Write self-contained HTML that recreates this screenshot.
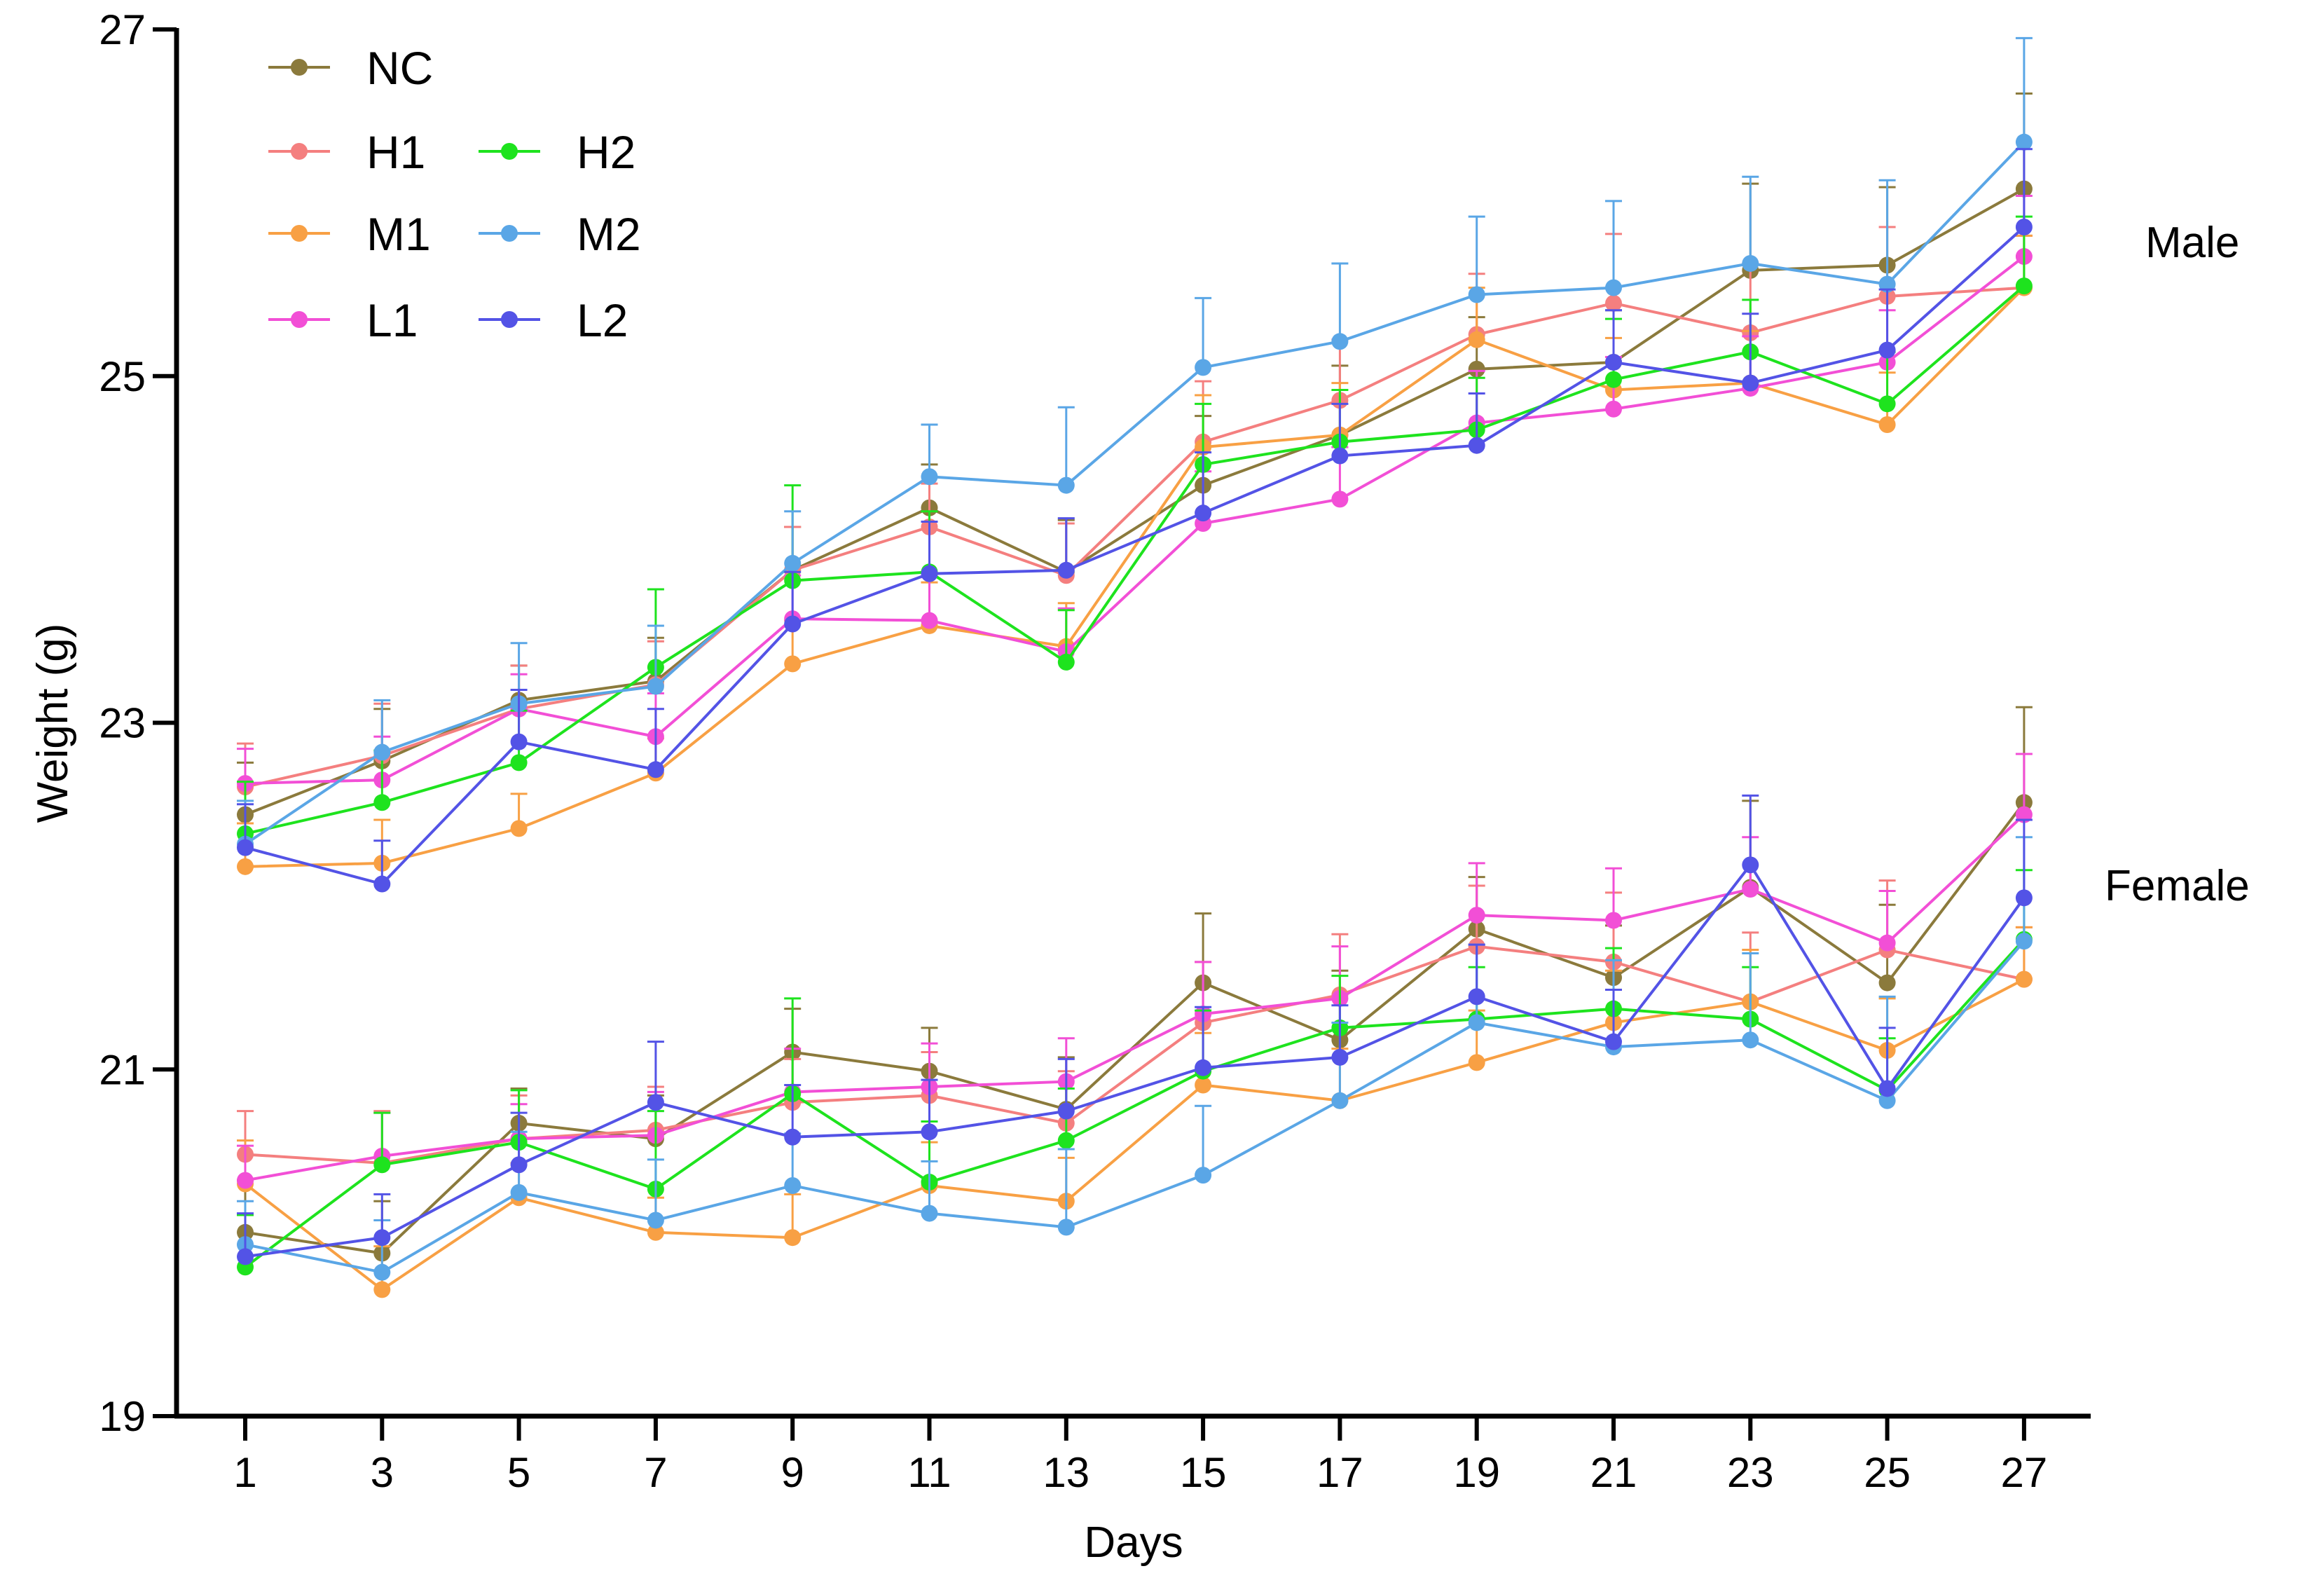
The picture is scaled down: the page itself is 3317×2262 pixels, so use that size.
<!DOCTYPE html>
<html><head><meta charset="utf-8"><style>
html,body{margin:0;padding:0;background:#fff;}
svg{display:block;font-family:"Liberation Sans",Arial,sans-serif;}
</style></head><body>
<svg id="chart" width="3317" height="2262" viewBox="0 0 3317 2262" xmlns="http://www.w3.org/2000/svg"></svg>
<script>
const days = [1,3,5,7,9,11,13,15,17,19,21,23,25,27];
const seriesNames = ["NC","H1","M1","L1","H2","M2","L2"];
const seriesColors = ["#8b7a3c","#f47f7f","#f8a044","#f24fd6","#1ee31e","#5aa6e6","#5353e6"];
// Male
const maleNC = [22.47,22.78,23.13,23.24,23.88,24.24,23.87,24.37,24.66,25.04,25.08,25.61,25.64,26.08];
const maleH1 = [22.63,22.81,23.08,23.22,23.88,24.13,23.85,24.62,24.86,25.24,25.42,25.25,25.46,25.51];
const maleM1 = [22.17,22.19,22.39,22.71,23.34,23.56,23.44,24.59,24.66,25.21,24.92,24.96,24.72,25.51];
const maleL1 = [22.65,22.67,23.08,22.92,23.60,23.59,23.41,24.15,24.29,24.73,24.81,24.93,25.08,25.69];
const maleH2 = [22.36,22.54,22.77,23.32,23.82,23.87,23.35,24.49,24.62,24.69,24.98,25.14,24.84,25.52];
const maleM2 = [22.30,22.83,23.11,23.21,23.92,24.42,24.37,25.05,25.20,25.47,25.51,25.65,25.53,26.35];
const maleL2 = [22.28,22.07,22.89,22.73,23.57,23.86,23.88,24.21,24.54,24.60,25.08,24.96,25.15,25.86];
// Female
const femNC = [20.06,19.94,20.69,20.60,21.10,20.99,20.77,21.50,21.17,21.81,21.53,22.05,21.50,22.54];
const femH1 = [20.51,20.46,20.60,20.65,20.81,20.85,20.69,21.27,21.43,21.71,21.62,21.39,21.69,21.52];
const femM1 = [20.34,19.73,20.26,20.06,20.03,20.33,20.24,20.91,20.82,21.04,21.27,21.39,21.11,21.52];
const femL1 = [20.36,20.50,20.60,20.62,20.87,20.90,20.93,21.32,21.41,21.89,21.86,22.04,21.73,22.47];
const femH2 = [19.86,20.45,20.58,20.31,20.86,20.35,20.59,20.99,21.24,21.29,21.35,21.29,20.88,21.75];
const femM2 = [19.99,19.83,20.29,20.13,20.33,20.17,20.09,20.39,20.82,21.27,21.13,21.17,20.82,21.74];
const femL2 = [19.92,20.03,20.45,20.81,20.61,20.64,20.76,21.01,21.07,21.42,21.16,22.18,20.89,21.99];
// error (SEM, upward bars)
const errNC = [0.30,0.30,0.20,0.25,0.25,0.25,0.30,0.40,0.40,0.30,0.30,0.50,0.45,0.55];
const errH1 = [0.25,0.30,0.25,0.25,0.25,0.25,0.30,0.35,0.35,0.35,0.40,0.40,0.40,0.30];
const errM1 = [0.25,0.25,0.20,0.20,0.25,0.25,0.25,0.30,0.30,0.30,0.30,0.30,0.30,0.30];
const errL1 = [0.20,0.25,0.20,0.25,0.25,0.25,0.25,0.30,0.30,0.30,0.30,0.30,0.30,0.35];
const errH2 = [0.30,0.30,0.30,0.45,0.55,0.35,0.30,0.35,0.30,0.30,0.35,0.30,0.30,0.40];
const errM2 = [0.25,0.30,0.35,0.35,0.30,0.30,0.45,0.40,0.45,0.45,0.50,0.50,0.60,0.60];
const errL2 = [0.25,0.25,0.30,0.35,0.30,0.30,0.30,0.35,0.30,0.30,0.30,0.40,0.35,0.45];
const yTicks = [19,21,23,25,27];

const maleSets = [maleNC,maleH1,maleM1,maleL1,maleH2,maleM2,maleL2];
const femSets = [femNC,femH1,femM1,femL1,femH2,femM2,femL2];
const errSets = [errNC,errH1,errM1,errL1,errH2,errM2,errL2];

const svg = document.getElementById('chart');
const NS = "http://www.w3.org/2000/svg";
const X0 = 350, DX = 195.3/2, YTOP = 42, YBOT = 2021;
function xs(d){ return X0 + (d-1)*DX; }
function ys(v){ return YBOT - (v-19)*(YBOT-YTOP)/8; }
function mk(tag, attrs, name, inter){
  const e = document.createElementNS(NS, tag);
  for (const k in attrs) e.setAttribute(k, attrs[k]);
  
  
  svg.appendChild(e); return e;
}
let el;
el = mk('line',{x1:252,y1:40,x2:252,y2:2024,stroke:'#000','stroke-width':7},'y-axis',false);
el = mk('line',{x1:249,y1:2021,x2:2984,y2:2021,stroke:'#000','stroke-width':7},'x-axis',false);
yTicks.forEach(t=>{
  mk('line',{x1:218,y1:ys(t),x2:252,y2:ys(t),stroke:'#000','stroke-width':6},'y-tick',false);
  const tx = mk('text',{x:208,y:ys(t)+21,'text-anchor':'end','font-size':60},'y-tick-label',false);
  tx.textContent = t;
});
days.forEach(d=>{
  mk('line',{x1:xs(d),y1:2021,x2:xs(d),y2:2056,stroke:'#000','stroke-width':6},'x-tick',false);
  const tx = mk('text',{x:xs(d),y:2122,'text-anchor':'middle','font-size':60},'x-tick-label',false);
  tx.textContent = d;
});
el = mk('text',{x:1618,y:2222,'text-anchor':'middle','font-size':62},'x-axis-title',false);
el.textContent = 'Days';
el = mk('text',{x:0,y:0,'text-anchor':'middle','font-size':62,transform:'translate(96,1032) rotate(-90)'},'y-axis-title',false);
el.textContent = 'Weight (g)';
el = mk('text',{x:3062,y:367,'font-size':62},'male-label',false);
el.textContent = 'Male';
el = mk('text',{x:3004,y:1285,'font-size':62},'female-label',false);
el.textContent = 'Female';

function drawSeries(vals, errs, color, name){
  vals.forEach((v,i)=>{
    const x = xs(days[i]), y = ys(v), yt = ys(v+errs[i]);
    mk('line',{x1:x,y1:y,x2:x,y2:yt,stroke:color,'stroke-width':3},'error-bar-'+name,false);
    mk('line',{x1:x-12,y1:yt,x2:x+12,y2:yt,stroke:color,'stroke-width':3},'error-cap-'+name,false);
  });
  const pts = vals.map((v,i)=>xs(days[i])+','+ys(v)).join(' ');
  mk('polyline',{points:pts,fill:'none',stroke:color,'stroke-width':4},'line-'+name,false);
  vals.forEach((v,i)=>{
    mk('circle',{cx:xs(days[i]),cy:ys(v),r:12,fill:color},'point-'+name,false);
  });
}
for (let s=0;s<seriesNames.length;s++){
  drawSeries(maleSets[s], errSets[s], seriesColors[s], 'male-'+seriesNames[s].toLowerCase());
  drawSeries(femSets[s], errSets[s], seriesColors[s], 'female-'+seriesNames[s].toLowerCase());
}
const legPos = [[0,96],[0,216],[0,333],[0,456],[1,216],[1,333],[1,456]];
for (let s=0;s<seriesNames.length;s++){
  const cx = legPos[s][0] ? 727 : 427, cy = legPos[s][1];
  mk('line',{x1:cx-44,y1:cy,x2:cx+44,y2:cy,stroke:seriesColors[s],'stroke-width':4},'legend-line-'+seriesNames[s].toLowerCase(),false);
  mk('circle',{cx:cx,cy:cy,r:12,fill:seriesColors[s]},'legend-marker-'+seriesNames[s].toLowerCase(),false);
  const t = mk('text',{x:cx+96,y:cy+24,'font-size':66},'legend-label-'+seriesNames[s].toLowerCase(),false);
  t.textContent = seriesNames[s];
}
</script>
</body></html>
